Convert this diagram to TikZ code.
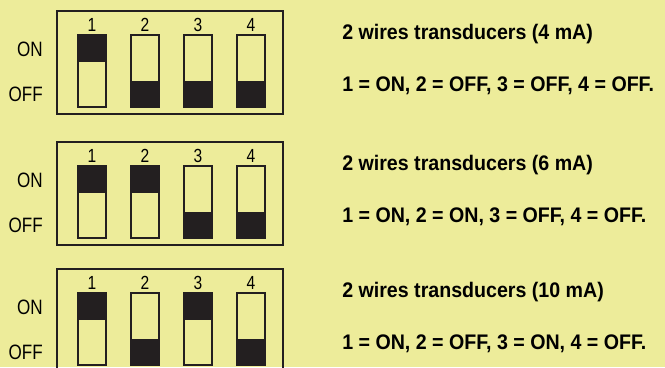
\documentclass[tikz,border=0pt]{standalone}
\usepackage{fontspec}
\setmainfont{Liberation Sans}
\newfontfamily\narrowfont[FakeStretch=0.82]{Liberation Sans}
\newfontfamily\captionfont[FakeStretch=0.93]{Liberation Sans}
\definecolor{paleyellow}{RGB}{237,236,154}
\definecolor{switchblack}{RGB}{35,31,32}
\tikzset{
  dipbox/.style={line width=1.6pt, draw=switchblack},
  dipslot/.style={line width=1.3pt, draw=switchblack},
  dipknob/.style={fill=switchblack},
  posname/.style={anchor=east, inner sep=0pt, font=\narrowfont\fontsize{14.8}{17}\selectfont},
  dipnum/.style={inner sep=0pt, font=\narrowfont\fontsize{13.5}{15}\selectfont},
  modetext/.style={anchor=west, inner sep=0pt, font=\captionfont\bfseries\fontsize{15}{18}\selectfont}
}

\begin{document}
\begin{tikzpicture}[scale=0.5]
				\fill[paleyellow] (0,0) rectangle (33.25,18.35);
				\useasboundingbox (0,0) rectangle (33.25,18.35);

				% 4 mA
				\draw[dipbox] (2.85,12.65) rectangle (14.15,17.8);
				\draw(2.15,15.9) node[posname] (on1) {ON};
				\draw(2.15,13.65) node[posname] (off1) {OFF};
				\draw(4.6,17.1) node[dipnum] (n11) {1};
				\draw(7.25,17.1) node[dipnum] (n12) {2};
				\draw(9.9,17.1) node[dipnum] (n13) {3};
				\draw(12.55,17.1) node[dipnum] (n14) {4};
				\fill[dipknob] (3.9,15.25) rectangle (5.3,16.6);
				\fill[dipknob] (6.55,13.0) rectangle (7.95,14.3);
				\fill[dipknob] (9.2,13.0) rectangle (10.6,14.3);
				\fill[dipknob] (11.85,13.0) rectangle (13.25,14.3);
				\draw[dipslot] (3.9,13.0) rectangle (5.3,16.6);
				\draw[dipslot] (6.55,13.0) rectangle (7.95,16.6);
				\draw[dipslot] (9.2,13.0) rectangle (10.6,16.6);
				\draw[dipslot] (11.85,13.0) rectangle (13.25,16.6);
				\draw(17.1,16.65) node[modetext] (t1) {2 wires transducers (4 mA)};
				\draw(17.1,14.05) node[modetext] (s1) {1 = ON, 2 = OFF, 3 = OFF, 4 = OFF.};

				% 6 mA
				\draw[dipbox] (2.85,6.1) rectangle (14.15,11.25);
				\draw(2.15,9.35) node[posname] (on2) {ON};
				\draw(2.15,7.1) node[posname] (off2) {OFF};
				\draw(4.6,10.55) node[dipnum] (n21) {1};
				\draw(7.25,10.55) node[dipnum] (n22) {2};
				\draw(9.9,10.55) node[dipnum] (n23) {3};
				\draw(12.55,10.55) node[dipnum] (n24) {4};
				\fill[dipknob] (3.9,8.7) rectangle (5.3,10.05);
				\fill[dipknob] (6.55,8.7) rectangle (7.95,10.05);
				\fill[dipknob] (9.2,6.45) rectangle (10.6,7.75);
				\fill[dipknob] (11.85,6.45) rectangle (13.25,7.75);
				\draw[dipslot] (3.9,6.45) rectangle (5.3,10.05);
				\draw[dipslot] (6.55,6.45) rectangle (7.95,10.05);
				\draw[dipslot] (9.2,6.45) rectangle (10.6,10.05);
				\draw[dipslot] (11.85,6.45) rectangle (13.25,10.05);
				\draw(17.1,10.1) node[modetext] (t2) {2 wires transducers (6 mA)};
				\draw(17.1,7.5) node[modetext] (s2) {1 = ON, 2 = ON, 3 = OFF, 4 = OFF.};

				% 10 mA
				\draw[dipbox] (2.85,-0.25) rectangle (14.15,4.9);
				\draw(2.15,3.0) node[posname] (on3) {ON};
				\draw(2.15,0.75) node[posname] (off3) {OFF};
				\draw(4.6,4.2) node[dipnum] (n31) {1};
				\draw(7.25,4.2) node[dipnum] (n32) {2};
				\draw(9.9,4.2) node[dipnum] (n33) {3};
				\draw(12.55,4.2) node[dipnum] (n34) {4};
				\fill[dipknob] (3.9,2.35) rectangle (5.3,3.7);
				\fill[dipknob] (6.55,0.1) rectangle (7.95,1.4);
				\fill[dipknob] (9.2,2.35) rectangle (10.6,3.7);
				\fill[dipknob] (11.85,0.1) rectangle (13.25,1.4);
				\draw[dipslot] (3.9,0.1) rectangle (5.3,3.7);
				\draw[dipslot] (6.55,0.1) rectangle (7.95,3.7);
				\draw[dipslot] (9.2,0.1) rectangle (10.6,3.7);
				\draw[dipslot] (11.85,0.1) rectangle (13.25,3.7);
				\draw(17.1,3.75) node[modetext] (t3) {2 wires transducers (10 mA)};
				\draw(17.1,1.15) node[modetext] (s3) {1 = ON, 2 = OFF, 3 = ON, 4 = OFF.};

\end{tikzpicture}
\end{document}
